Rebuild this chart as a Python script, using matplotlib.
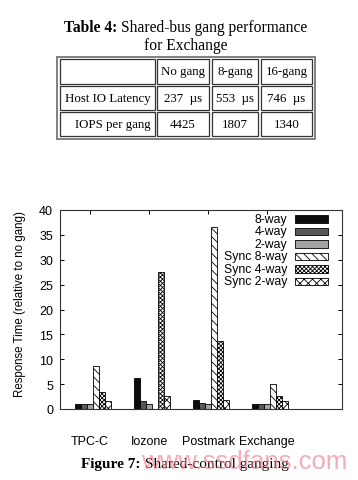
import matplotlib
matplotlib.use("Agg")
import matplotlib.pyplot as plt
from matplotlib.patches import Rectangle
import numpy as np

# ---------------- data ----------------
workloads = ["TPC-C", "Iozone", "Postmark", "Exchange"]
series_names = ["8-way", "4-way", "2-way", "Sync 8-way", "Sync 4-way", "Sync 2-way"]
way8 = [1.0, 6.2, 1.8, 1.0]
way4 = [1.0, 1.7, 1.2, 1.0]
way2 = [1.0, 1.0, 1.0, 1.0]
sync8 = [8.6, 0.0, 36.5, 5.1]
sync4 = [3.4, 27.6, 13.6, 2.6]
sync2 = [1.6, 2.7, 1.8, 1.6]

table_cols = ["", "No gang", "8-gang", "16-gang"]
table_row_labels = ["Host IO Latency", "IOPS per gang"]
latency = ["237  \u00b5s", "553  \u00b5s", "746  \u00b5s"]
iops = ["4425", "1807", "1340"]

y_ticks = [0, 5, 10, 15, 20, 25, 30, 35, 40]

# ---------------- styles ----------------
facecolors = ["#0d0d0d", "#585858", "#a3a3a3", "white", "white", "white"]
hatches = [None, None, None, "\\\\\\\\", "xxxxxxxx", "xxxx"]
plt.rcParams["hatch.linewidth"] = 0.6

W, H = 358, 481
fig = plt.figure(figsize=(W / 100, H / 100), dpi=100)
renderer = fig.canvas.get_renderer()

def fx(px):
    return px / W

def fy(py):
    return 1 - py / H

serif = ["Liberation Serif", "DejaVu Serif"]
sans = ["Liberation Sans", "DejaVu Sans"]

def centered_pair(xc, yc, bold_txt, reg_txt, size):
    """Draw bold + regular text as one centred line."""
    a = fig.text(0, fy(yc), bold_txt + " ", family=serif, weight="bold",
                 fontsize=size, ha="left", va="center")
    b = fig.text(0, fy(yc), reg_txt, family=serif, fontsize=size,
                 ha="left", va="center")
    wa = a.get_window_extent(renderer).width
    wb = b.get_window_extent(renderer).width
    x0 = xc - (wa + wb) / 2
    a.set_x(fx(x0))
    b.set_x(fx(x0 + wa))

# ---------------- table title ----------------
centered_pair(186, 28, "Table 4:", "Shared-bus gang performance", 11.2)
fig.text(fx(186), fy(46), "for Exchange", family=serif, fontsize=11.2,
         ha="center", va="center")

# ---------------- table ----------------
outer = Rectangle((fx(57), fy(140)), fx(315) - fx(57), fy(58) - fy(140),
                  transform=fig.transFigure, fill=False, edgecolor="#808080",
                  linewidth=1.4)
fig.patches.append(outer)
col_edges = [(60, 155), (157, 209), (212, 258), (261, 312)]
row_edges = [(60, 85), (87, 111), (113, 137)]
for (y0, y1) in row_edges:
    for (x0, x1) in col_edges:
        r = Rectangle((fx(x0), fy(y1)), fx(x1) - fx(x0), fy(y0) - fy(y1),
                      transform=fig.transFigure, fill=False, edgecolor="#333333",
                      linewidth=0.9)
        fig.patches.append(r)

table_rows = [table_cols,
              [table_row_labels[0]] + latency,
              [table_row_labels[1]] + iops]
for ri, row in enumerate(table_rows):
    yc = (row_edges[ri][0] + row_edges[ri][1]) / 2
    for ci, txt in enumerate(row):
        if not txt:
            continue
        if ci == 0:
            fig.text(fx(151), fy(yc), txt, family=serif, fontsize=9.3,
                     ha="right", va="center")
        else:
            xc = (col_edges[ci][0] + col_edges[ci][1]) / 2
            fig.text(fx(xc), fy(yc), txt, family=serif, fontsize=9.3,
                     ha="center", va="center")

# ---------------- chart ----------------
ax = fig.add_axes([fx(60), fy(410), fx(342) - fx(60), fy(211) - fy(410)])
series = [way8, way4, way2, sync8, sync4, sync2]
x = np.arange(len(workloads))
bw = 0.102
for k, vals in enumerate(series):
    pos = x + 0.05 + (k - 2.5) * bw
    ax.bar(pos, vals, width=bw, color=facecolors[k], edgecolor="black",
           linewidth=0.6, hatch=hatches[k])

ax.set_xlim(-0.51, 4.27)
ax.set_ylim(0, 40)
ax.set_yticks(y_ticks)
ax.set_yticklabels([str(v) for v in y_ticks], family=sans, fontsize=9)
ax.tick_params(axis="y", direction="in", length=3, width=0.7, right=True,
               pad=5, colors="black")
ax.set_xticks(x)
ax.set_xticklabels(workloads, family=sans, fontsize=9)
ax.tick_params(axis="x", direction="in", length=3, width=0.7, top=True,
               bottom=False, pad=19)
for sp in ax.spines.values():
    sp.set_color("#333333")
    sp.set_linewidth(0.8)
ax.set_ylabel("Response Time (relative to no gang)", family=sans, fontsize=8.3)
ax.yaxis.set_label_coords(-0.12, 0.53)

# manual legend (gnuplot style: right-aligned text, sample to the right)
for k, name in enumerate(series_names):
    yc = 0.955 - k * 0.0628
    ax.text(0.805, yc, name, transform=ax.transAxes, ha="right", va="center",
            family=sans, fontsize=8.8)
    ax.add_patch(Rectangle((0.833, yc - 0.018), 0.117, 0.036,
                           transform=ax.transAxes, facecolor=facecolors[k],
                           edgecolor="black", linewidth=0.6, hatch=hatches[k],
                           clip_on=False))

# ---------------- caption ----------------
centered_pair(185, 465, "Figure 7:", "Shared-control ganging", 11)

# watermark
fig.text(fx(244), fy(462), "www.ssdfans.com", family=sans, fontsize=18.5,
         color="#f08090", alpha=0.65, ha="center", va="center")

fig.savefig("out.png", dpi=100)
